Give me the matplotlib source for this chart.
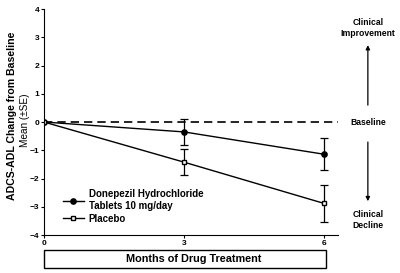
import numpy as np
import matplotlib.pyplot as plt
from matplotlib.patches import Rectangle

plt.rcParams['font.family'] = ['Liberation Sans', 'DejaVu Sans']

months = [0, 3, 6]
donepezil = [0, -0.35, -1.14]
donepezil_se = [0, 0.45, 0.57]
placebo = [0, -1.42, -2.88]
placebo_se = [0, 0.47, 0.65]
yticks = [-4, -3, -2, -1, 0, 1, 2, 3, 4]

fig = plt.figure(figsize=(4, 2.73), dpi=100)
ax = fig.add_axes([0.11, 0.139, 0.735, 0.828])

ax.axhline(0, color='black', lw=1.2, ls=(0, (5, 3)))

ax.errorbar(months[1:], donepezil[1:], yerr=donepezil_se[1:], fmt='none',
            ecolor='black', elinewidth=0.9, capsize=3, capthick=0.9)
ax.errorbar(months[1:], placebo[1:], yerr=placebo_se[1:], fmt='none',
            ecolor='black', elinewidth=0.9, capsize=3, capthick=0.9)
ax.plot(months, donepezil, color='black', lw=1, marker='o', ms=3.8,
        mfc='black', label='Donepezil Hydrochloride\nTablets 10 mg/day')
ax.plot(months, placebo, color='black', lw=1, marker='s', ms=3.5,
        mfc='white', label='Placebo')

ax.set_xlim(0, 6.3)
ax.set_ylim(-4, 4)
ax.set_xticks(months)
ax.set_yticks(yticks)
ax.tick_params(labelsize=6, length=2.5, width=0.8, pad=1)
for lab in ax.get_xticklabels() + ax.get_yticklabels():
    lab.set_fontweight('bold')
ax.spines['top'].set_visible(False)
ax.spines['right'].set_visible(False)

ax.legend(loc='lower left', bbox_to_anchor=(0.04, 0.02), frameon=False,
          prop={'size': 7, 'weight': 'bold'}, handlelength=2.2,
          handletextpad=0.5, labelspacing=0.3, borderpad=0.2)

fig.text(0.029, 0.575, 'ADCS-ADL Change from Baseline', rotation=90,
         ha='center', va='center', fontsize=7.6, fontweight='bold')
fig.text(0.0625, 0.56, 'Mean (\u00b1SE)', rotation=90,
         ha='center', va='center', fontsize=7.2)

# x label inside a box
fig.patches.append(Rectangle((0.11, 0.02), 0.705, 0.064, transform=fig.transFigure,
                             fill=False, edgecolor='black', lw=1))
fig.text(0.484, 0.052, 'Months of Drug Treatment', ha='center', va='center',
         fontsize=7.8, fontweight='bold')

# right side annotations
ax.text(6.94, 3.32, 'Clinical\nImprovement', ha='center', va='center',
        fontsize=6.2, fontweight='bold', clip_on=False, linespacing=1.3)
ax.annotate('', xy=(6.94, 2.82), xytext=(6.94, 0.5), annotation_clip=False,
            arrowprops=dict(arrowstyle='-|>', color='black', lw=0.9,
                            mutation_scale=6))
ax.text(6.94, 0, 'Baseline', ha='center', va='center', fontsize=6.2,
        fontweight='bold', clip_on=False)
ax.annotate('', xy=(6.94, -2.9), xytext=(6.94, -0.61), annotation_clip=False,
            arrowprops=dict(arrowstyle='-|>', color='black', lw=0.9,
                            mutation_scale=6))
ax.text(6.94, -3.46, 'Clinical\nDecline', ha='center', va='center',
        fontsize=6.2, fontweight='bold', clip_on=False, linespacing=1.3)

fig.savefig('out.png', dpi=100)
